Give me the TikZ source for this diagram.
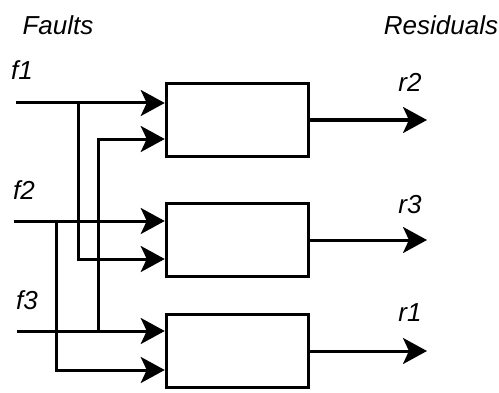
\documentclass[tikz,border=0pt]{standalone}
\usepackage{fontspec}
\setmainfont{Liberation Sans}
\usetikzlibrary{arrows.meta,calc}
\begin{document}
\begin{tikzpicture}[>={Stealth[length=12pt,width=13pt,inset=3pt]},x=0.5pt,y=0.5pt,line width=1.5pt,
	gen/.style={draw,line width=1.75pt,minimum width=71pt,minimum height=36.5pt,inner sep=0pt},
	lbl/.style={font=\fontsize{13}{15}\selectfont\itshape,inner sep=0pt}]
		\useasboundingbox (0,0) rectangle (499,392);
		\node[lbl] (faults) at (58,367) {Faults};
		\node[lbl] (resid) at (441,367) {Residuals};
		% residual generators
		\node[gen] (g1) at (237.5,272) {};
		\node[gen] (g2) at (237.5,152) {};
		\node[gen] (g3) at (237.5,41) {};
		\coordinate (g1in) at ($(g1.west)+(0,-19)$);
		\coordinate (g2in) at ($(g2.west)+(0,-19)$);
		\coordinate (g3in) at ($(g3.west)+(0,-19)$);
		% fault inputs
		\node[lbl] (lf1) at (22,322) {f1};
		\node[lbl] (lf2) at (24,202) {f2};
		\node[lbl] (lf3) at (27,92) {f3};
		\coordinate (f1) at (16,289);
		\coordinate (f2) at (14,171);
		\coordinate (f3) at (17,61);
		\draw[->] (f1) -- (f1 -| g1.west);
		\draw[->] (f2) -- (f2 -| g2.west);
		\draw[->] (f3) -- (f3 -| g3.west);
		% each fault also feeds a second generator
		\coordinate (t1) at (78,289);
		\coordinate (t2) at (56,171);
		\coordinate (t3) at (98,61);
		\draw[->] (t1) |- (g2in);
		\draw[->] (t2) |- (g3in);
		\draw[->] (t3) |- (g1in);
		% residual outputs
		\coordinate (r2) at (427,272);
		\coordinate (r3) at (427,152);
		\coordinate (r1) at (427,41);
		\draw[->] (g1.east) -- (r2);
		\draw[->] (g2.east) -- (r3);
		\draw[->] (g3.east) -- (r1);
		\node[lbl] (lr2) at (410,310) {r2};
		\node[lbl] (lr3) at (410,187) {r3};
		\node[lbl] (lr1) at (410,79) {r1};
\end{tikzpicture}
\end{document}
